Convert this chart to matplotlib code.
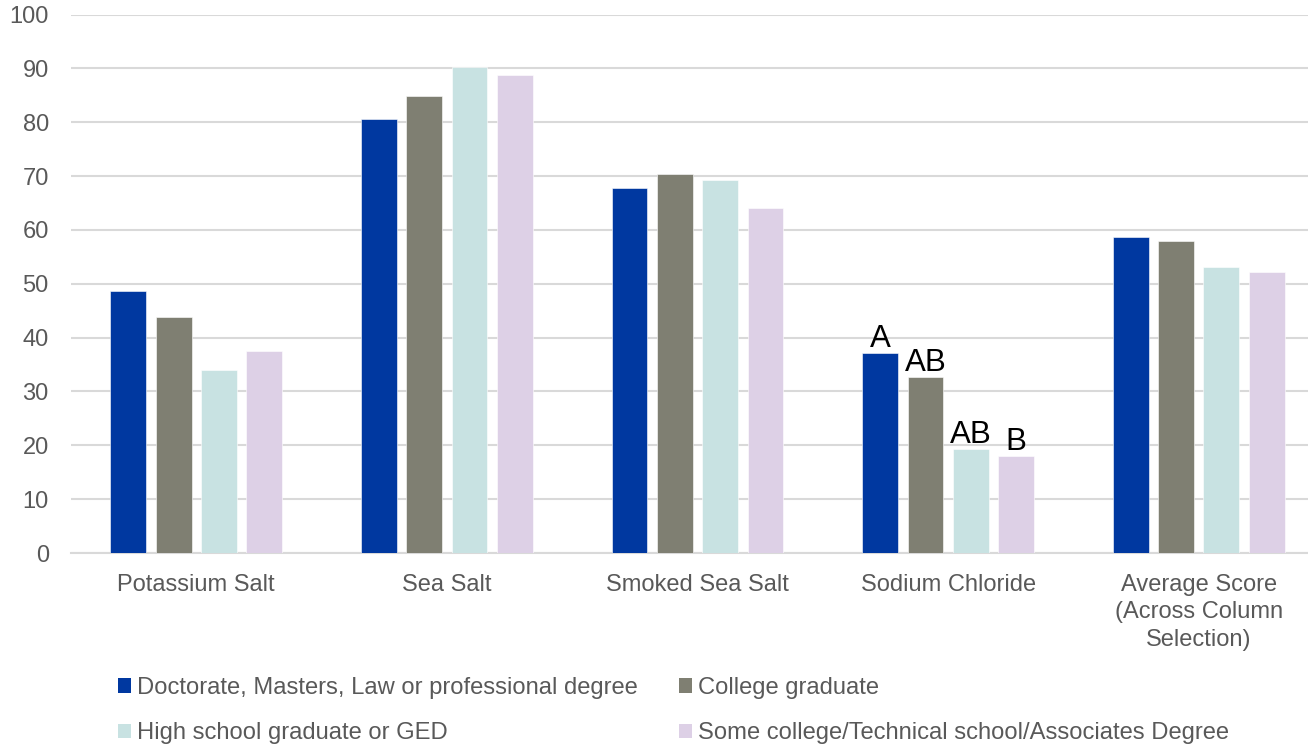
import matplotlib
matplotlib.use("Agg")
import matplotlib.pyplot as plt
import numpy as np
from matplotlib.patches import Patch

plt.rcParams['font.family'] = ['Liberation Sans', 'DejaVu Sans']

categories = ["Potassium Salt", "Sea Salt", "Smoked Sea Salt", "Sodium Chloride",
              "Average Score\n(Across Column\nSelection)"]
series_names = ["Doctorate, Masters, Law or professional degree",
                "College graduate",
                "High school graduate or GED",
                "Some college/Technical school/Associates Degree"]
doctorate = [48.6, 80.6, 67.8, 37.1, 58.6]
college = [43.9, 84.9, 70.4, 32.6, 58.0]
highschool = [33.9, 90.2, 69.3, 19.3, 53.1]
somecollege = [37.6, 88.8, 64.1, 18.0, 52.1]
sodium_letters = ["A", "AB", "AB", "B"]
sodium_index = 3
y_ticks = [0, 10, 20, 30, 40, 50, 60, 70, 80, 90, 100]

colors = ["#0038A0", "#7F7F72", "#C8E2E2", "#DDD0E6"]
series = [doctorate, college, highschool, somecollege]

fig = plt.figure(figsize=(13.08, 7.44), dpi=100)
ax = fig.add_axes([71 / 1308, (744 - 553) / 744, (1324 - 71) / 1308, (553 - 14.5) / 744])

x = np.arange(len(categories))
bw = 0.143
step = 0.181
offsets = (np.arange(4) - 1.5) * step
for i, (vals, c) in enumerate(zip(series, colors)):
    ax.bar(x + offsets[i], vals, width=bw, color=c, edgecolor='white', linewidth=0.4, zorder=3)

for i, lab in enumerate(sodium_letters):
    ax.text(sodium_index + offsets[i], series[i][sodium_index] + 1.2, lab,
            ha='center', va='baseline', fontsize=22.5, color='black', zorder=4)

ax.set_xlim(-0.5, len(categories) - 0.5)
ax.set_ylim(0, 100)
ax.set_yticks(y_ticks)
ax.yaxis.grid(True, color='#D9D9D9', linewidth=1.5, zorder=0)
ax.set_axisbelow(True)
for s in ['top', 'right', 'left']:
    ax.spines[s].set_visible(False)
ax.spines['bottom'].set_color('#D9D9D9')
ax.spines['bottom'].set_linewidth(1.5)
ax.set_xticks(x)
ax.set_xticklabels(categories, linespacing=1.33)
ax.tick_params(axis='x', length=0, pad=15, labelsize=17, labelcolor='#595959')
ax.tick_params(axis='y', length=0, pad=16, labelsize=17, labelcolor='#595959')

order = [0, 2, 1, 3]
handles = [Patch(facecolor=colors[k], edgecolor='none') for k in order]
labels = [series_names[k] for k in order]
fig.legend(handles, labels, ncol=2, loc='upper left',
           bbox_to_anchor=(118 / 1308, 1 - 677 / 744), frameon=False,
           borderpad=0, borderaxespad=0,
           fontsize=17.1, labelcolor='#595959', handlelength=0.55, handleheight=0.55,
           handletextpad=0.25, columnspacing=1.75, labelspacing=0.98)

fig.savefig("out.png", dpi=100)
